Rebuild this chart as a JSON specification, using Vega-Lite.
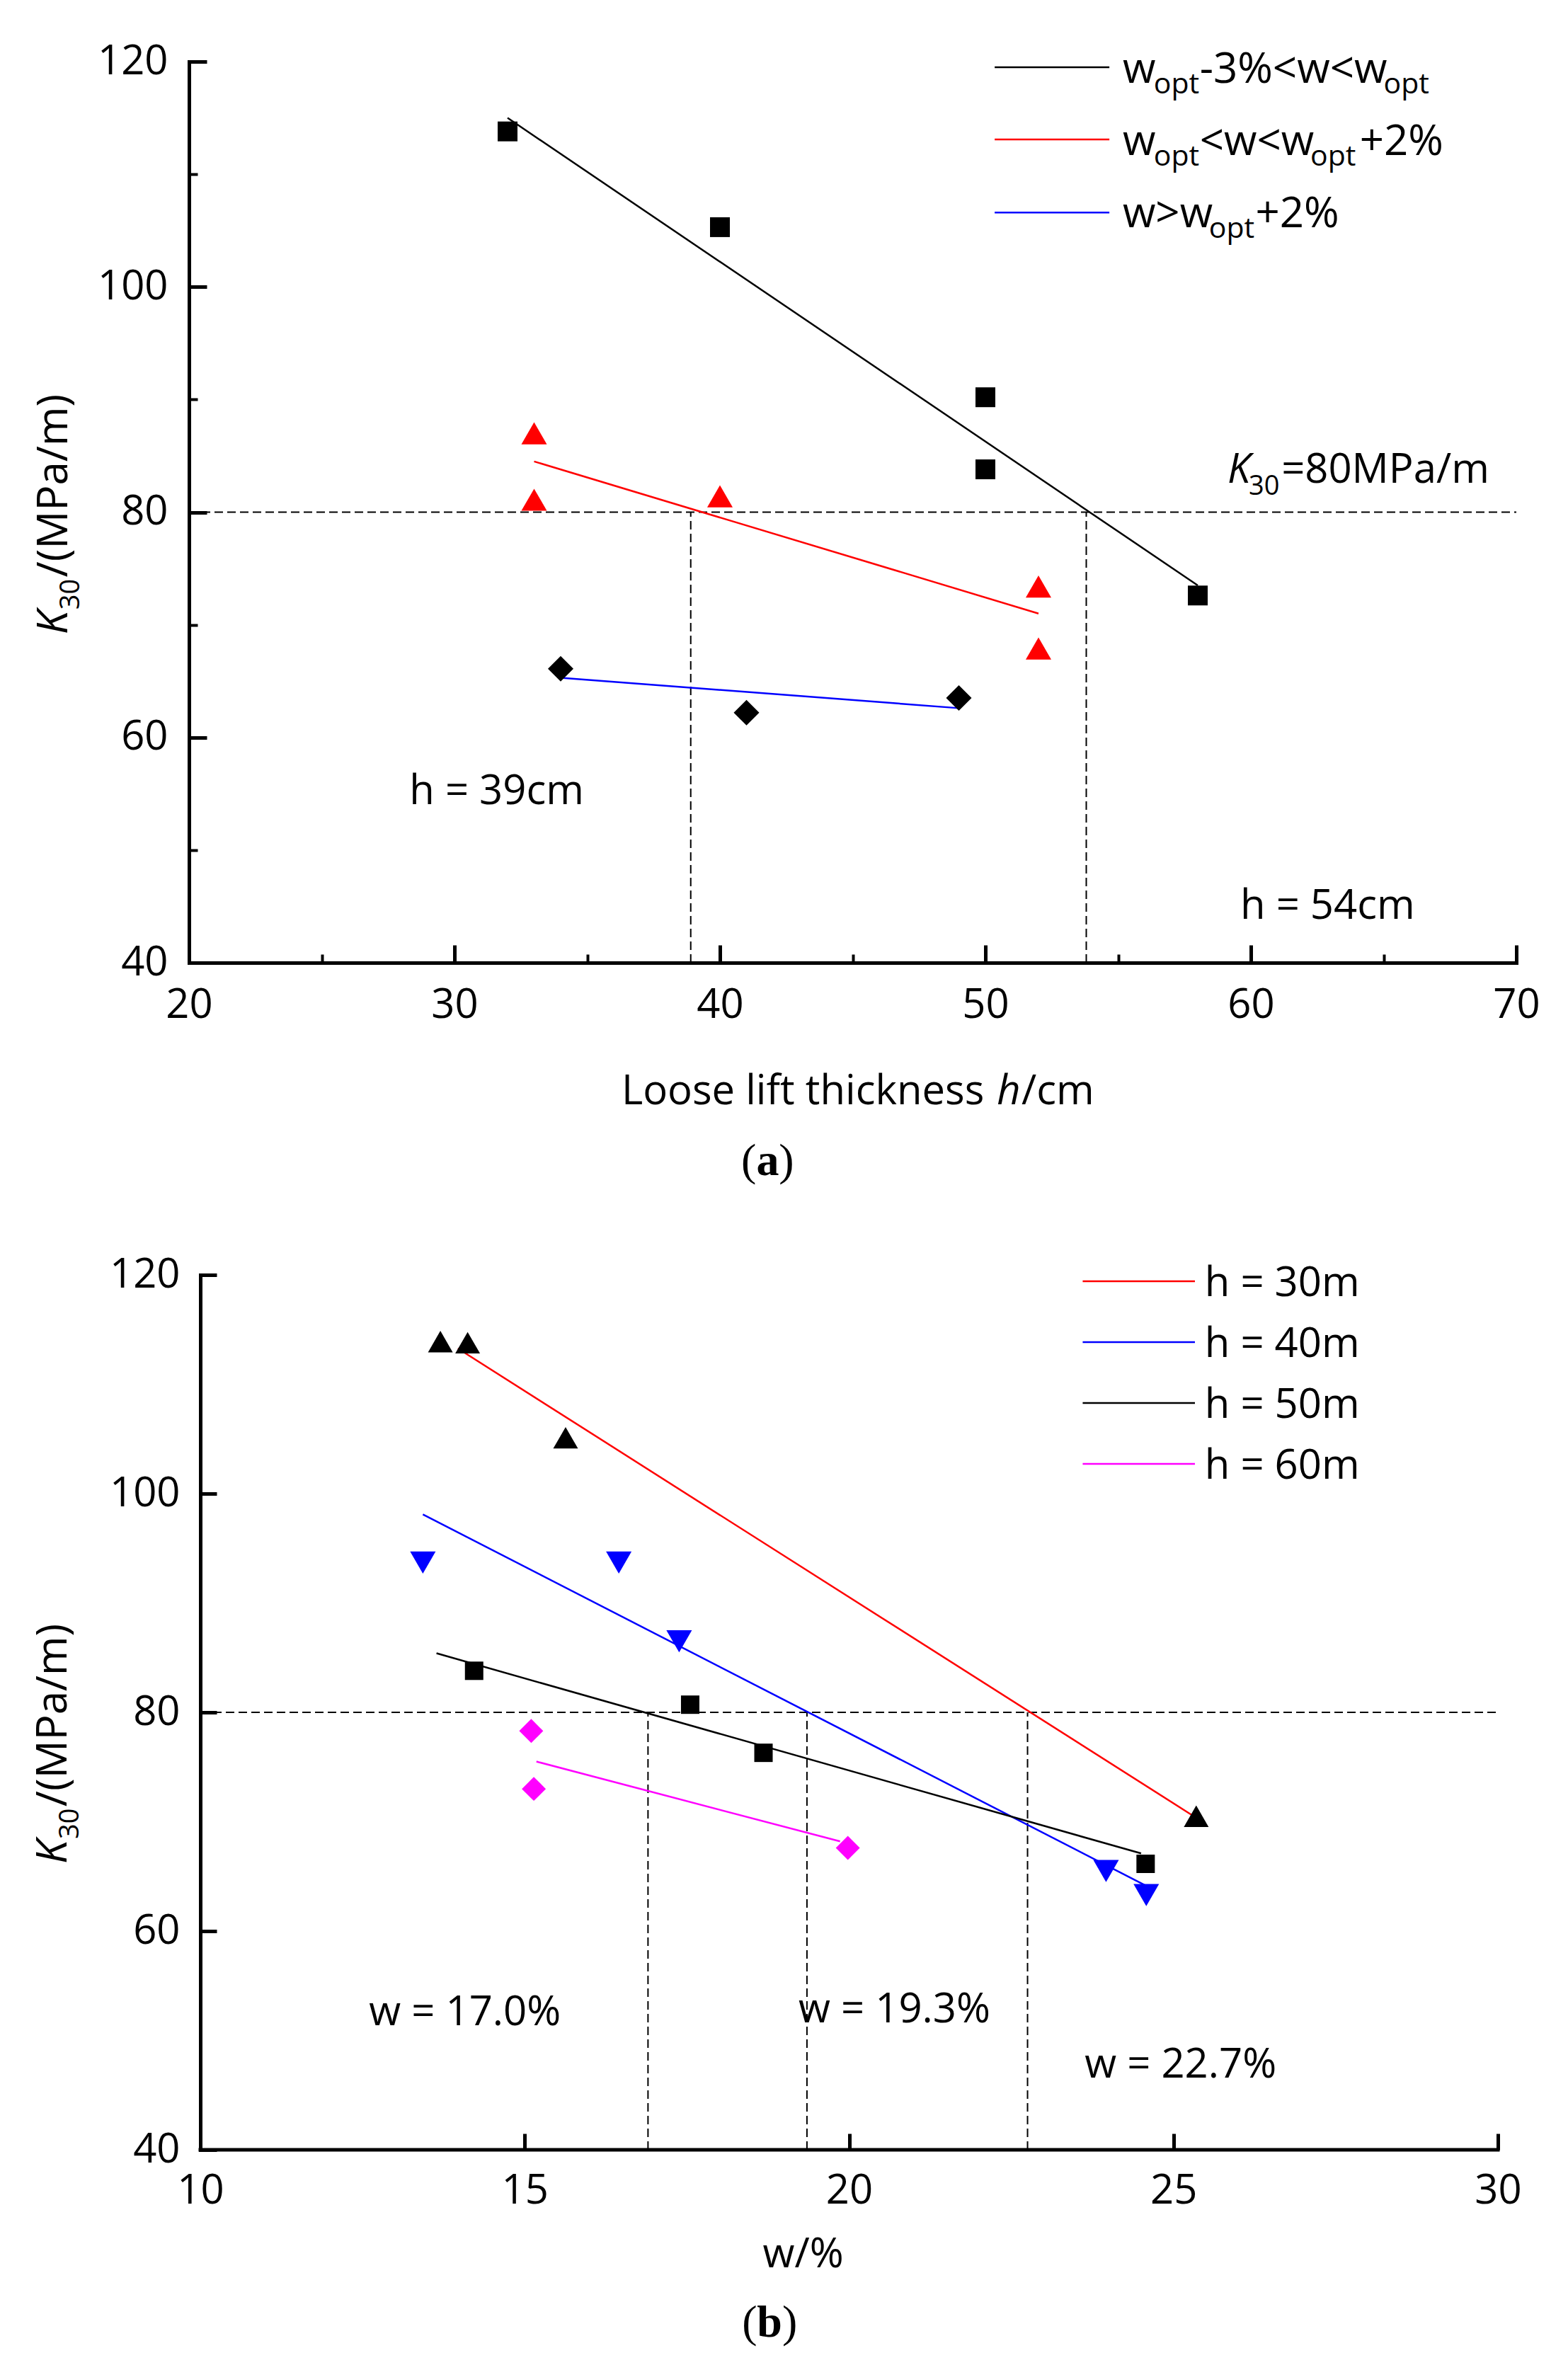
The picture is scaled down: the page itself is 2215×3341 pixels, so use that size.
{
  "$schema": "https://vega.github.io/schema/vega-lite/v6.json",
  "background": "white",
  "padding": {"left": 46, "top": 58, "right": 5, "bottom": 5},
  "spacing": 98,
  "resolve": {"scale": {"color": "independent"}},
  "config": {"view": {"stroke": null}, "font": "Open Sans", "text": {"color": "black"}},
  "vconcat": [
    {
      "width": 1875,
      "height": 1273,
      "resolve": {"axis": {"x": "independent", "y": "independent"}},
      "layer": [
        {
          "data": {"values": [
            {"x": 20, "y": 80, "x2": 70, "y2": 80},
            {"x": 38.9, "y": 40, "x2": 38.9, "y2": 80},
            {"x": 53.8, "y": 40, "x2": 53.8, "y2": 80}
          ]},
          "mark": {"type": "rule", "color": "black", "strokeWidth": 2, "strokeDash": [12, 6]},
          "encoding": {
            "x": {"field": "x", "type": "quantitative", "scale": {"domain": [20, 70], "nice": false, "zero": false},
              "axis": {"orient": "bottom", "values": [25, 35, 45, 55, 65], "labels": false, "domain": false, "title": null, "grid": false, "tickColor": "black", "tickWidth": 4, "tickSize": -12}},
            "y": {"field": "y", "type": "quantitative", "scale": {"domain": [40, 120], "nice": false, "zero": false},
              "axis": {"orient": "left", "values": [50, 70, 90, 110], "labels": false, "domain": false, "title": null, "grid": false, "tickColor": "black", "tickWidth": 4, "tickSize": -12}},
            "x2": {"field": "x2"},
            "y2": {"field": "y2"}
          }
        },
        {
          "data": {"values": [
            {"s": "A", "x": 32, "y": 115.0}, {"s": "A", "x": 58, "y": 73.5},
            {"s": "B", "x": 33, "y": 84.5}, {"s": "B", "x": 52, "y": 71.0},
            {"s": "C", "x": 34, "y": 65.3}, {"s": "C", "x": 49, "y": 62.6}
          ]},
          "mark": {"type": "line", "strokeWidth": 2.5},
          "encoding": {
            "x": {"field": "x", "type": "quantitative",
              "axis": {"orient": "bottom", "values": [20, 30, 40, 50, 60, 70], "title": null, "grid": false, "domainColor": "black", "domainWidth": 5, "domainCap": "square", "tickColor": "black", "tickWidth": 5, "tickSize": -25, "labelPadding": 56, "labelFontSize": 58, "labelFont": "Open Sans", "labelColor": "black", "labelFlush": false, "labelOverlap": false}},
            "y": {"field": "y", "type": "quantitative",
              "axis": {"orient": "left", "values": [40, 60, 80, 100, 120], "title": null, "grid": false, "domainColor": "black", "domainWidth": 5, "domainCap": "square", "tickColor": "black", "tickWidth": 5, "tickSize": -25, "labelPadding": 55, "labelFontSize": 58, "labelFont": "Open Sans", "labelColor": "black", "labelFlush": false, "labelOverlap": false}},
            "color": {"field": "s", "type": "nominal", "scale": {"domain": ["A", "B", "C"], "range": ["#000000", "#ff0000", "#0000ff"]}, "legend": null},
            "detail": {"field": "s"}
          }
        },
        {
          "data": {"values": [
            {"s": "A", "x": 50.35, "x2": 54.67, "y": 119.5},
            {"s": "B", "x": 50.35, "x2": 54.67, "y": 113.09},
            {"s": "C", "x": 50.35, "x2": 54.67, "y": 106.6}
          ]},
          "mark": {"type": "rule", "strokeWidth": 2.5},
          "encoding": {
            "x": {"field": "x", "type": "quantitative", "axis": null},
            "x2": {"field": "x2"},
            "y": {"field": "y", "type": "quantitative", "axis": null},
            "color": {"field": "s", "type": "nominal", "legend": null}
          }
        },
        {
          "data": {"values": [
            {"x": 32, "y": 113.8}, {"x": 40, "y": 105.3}, {"x": 50, "y": 90.2}, {"x": 50, "y": 83.8}, {"x": 58, "y": 72.6}
          ]},
          "mark": {"type": "point", "shape": "square", "filled": true, "color": "black", "opacity": 1, "size": 784},
          "encoding": {
            "x": {"field": "x", "type": "quantitative", "axis": null},
            "y": {"field": "y", "type": "quantitative", "axis": null}
          }
        },
        {
          "data": {"values": [
            {"x": 33, "y": 87.0}, {"x": 33, "y": 81.1}, {"x": 40, "y": 81.4}, {"x": 52, "y": 73.4}, {"x": 52, "y": 67.9}
          ]},
          "mark": {"type": "point", "shape": "triangle-up", "filled": true, "color": "#ff0000", "opacity": 1, "size": 1300},
          "encoding": {
            "x": {"field": "x", "type": "quantitative", "axis": null},
            "y": {"field": "y", "type": "quantitative", "axis": null}
          }
        },
        {
          "data": {"values": [
            {"x": 34, "y": 66.1}, {"x": 41, "y": 62.2}, {"x": 49, "y": 63.5}
          ]},
          "mark": {"type": "point", "shape": "diamond", "filled": true, "color": "black", "opacity": 1, "size": 1300},
          "encoding": {
            "x": {"field": "x", "type": "quantitative", "axis": null},
            "y": {"field": "y", "type": "quantitative", "axis": null}
          }
        },
        {
          "data": {"values": [
            {"x": 61.15, "y": 82.6, "t": "=80MPa/m"},
            {"x": 28.3, "y": 54.1, "t": "h = 39cm"},
            {"x": 59.6, "y": 43.9, "t": "h = 54cm"},
            {"x": 36.29, "y": 27.43, "t": "Loose lift thickness"},
            {"x": 51.36, "y": 27.43, "t": "/cm"}
          ]},
          "mark": {"type": "text", "align": "left", "baseline": "alphabetic", "fontSize": 58, "font": "Open Sans"},
          "encoding": {
            "x": {"field": "x", "type": "quantitative", "axis": null},
            "y": {"field": "y", "type": "quantitative", "axis": null},
            "text": {"field": "t"}
          }
        },
        {
          "data": {"values": [
            {"x": 59.12, "y": 82.6, "t": "K"},
            {"x": 50.43, "y": 27.43, "t": "h"}
          ]},
          "mark": {"type": "text", "align": "left", "baseline": "alphabetic", "fontSize": 58, "fontStyle": "italic", "font": "Open Sans"},
          "encoding": {
            "x": {"field": "x", "type": "quantitative", "axis": null},
            "y": {"field": "y", "type": "quantitative", "axis": null},
            "text": {"field": "t"}
          }
        },
        {
          "data": {"values": [
            {"x": 59.92, "y": 81.53, "t": "30"}
          ]},
          "mark": {"type": "text", "align": "left", "baseline": "alphabetic", "fontSize": 38, "font": "Open Sans"},
          "encoding": {
            "x": {"field": "x", "type": "quantitative", "axis": null},
            "y": {"field": "y", "type": "quantitative", "axis": null},
            "text": {"field": "t"}
          }
        },
        {
          "data": {"values": [
            {"x": 55.17, "y": 118.11, "t": "w"},
            {"x": 58.07, "y": 118.11, "t": "-3%<w<w"},
            {"x": 55.17, "y": 111.7, "t": "w"},
            {"x": 58.07, "y": 111.7, "t": "<w<w"},
            {"x": 64.1, "y": 111.7, "t": "+2%"},
            {"x": 55.17, "y": 105.29, "t": "w>w"},
            {"x": 60.17, "y": 105.29, "t": "+2%"}
          ]},
          "mark": {"type": "text", "align": "left", "baseline": "alphabetic", "fontSize": 60, "font": "Open Sans"},
          "encoding": {
            "x": {"field": "x", "type": "quantitative", "axis": null},
            "y": {"field": "y", "type": "quantitative", "axis": null},
            "text": {"field": "t"}
          }
        },
        {
          "data": {"values": [
            {"x": 56.34, "y": 117.17, "t": "opt"},
            {"x": 65.0, "y": 117.17, "t": "opt"},
            {"x": 56.34, "y": 110.76, "t": "opt"},
            {"x": 62.24, "y": 110.76, "t": "opt"},
            {"x": 58.42, "y": 104.35, "t": "opt"}
          ]},
          "mark": {"type": "text", "align": "left", "baseline": "alphabetic", "fontSize": 41, "font": "Open Sans"},
          "encoding": {
            "x": {"field": "x", "type": "quantitative", "axis": null},
            "y": {"field": "y", "type": "quantitative", "axis": null},
            "text": {"field": "t"}
          }
        },
        {
          "data": {"values": [
            {"x": 15.41, "y": 74.24, "t": "/(MPa/m)"}
          ]},
          "mark": {"type": "text", "align": "left", "baseline": "alphabetic", "angle": 270, "fontSize": 60, "font": "Open Sans"},
          "encoding": {
            "x": {"field": "x", "type": "quantitative", "axis": null},
            "y": {"field": "y", "type": "quantitative", "axis": null},
            "text": {"field": "t"}
          }
        },
        {
          "data": {"values": [
            {"x": 15.41, "y": 69.15, "t": "K"}
          ]},
          "mark": {"type": "text", "align": "left", "baseline": "alphabetic", "angle": 270, "fontSize": 60, "fontStyle": "italic", "font": "Open Sans"},
          "encoding": {
            "x": {"field": "x", "type": "quantitative", "axis": null},
            "y": {"field": "y", "type": "quantitative", "axis": null},
            "text": {"field": "t"}
          }
        },
        {
          "data": {"values": [
            {"x": 15.87, "y": 71.35, "t": "30"}
          ]},
          "mark": {"type": "text", "align": "left", "baseline": "alphabetic", "angle": 270, "fontSize": 38, "font": "Open Sans"},
          "encoding": {
            "x": {"field": "x", "type": "quantitative", "axis": null},
            "y": {"field": "y", "type": "quantitative", "axis": null},
            "text": {"field": "t"}
          }
        },
        {
          "data": {"values": [
            {"x": 40.8, "y": 21.14, "t": "("},
            {"x": 42.22, "y": 21.14, "t": ")"}
          ]},
          "mark": {"type": "text", "align": "left", "baseline": "alphabetic", "fontSize": 64, "font": "Liberation Serif"},
          "encoding": {
            "x": {"field": "x", "type": "quantitative", "axis": null},
            "y": {"field": "y", "type": "quantitative", "axis": null},
            "text": {"field": "t"}
          }
        },
        {
          "data": {"values": [
            {"x": 41.37, "y": 21.14, "t": "a"}
          ]},
          "mark": {"type": "text", "align": "left", "baseline": "alphabetic", "fontSize": 64, "fontWeight": "bold", "font": "Liberation Serif"},
          "encoding": {
            "x": {"field": "x", "type": "quantitative", "axis": null},
            "y": {"field": "y", "type": "quantitative", "axis": null},
            "text": {"field": "t"}
          }
        }
      ]
    },
    {
      "width": 1849,
      "height": 1236,
      "resolve": {"axis": {"x": "independent", "y": "independent"}},
      "layer": [
        {
          "data": {"values": [
            {"x": 10, "y": 80, "x2": 30, "y2": 80},
            {"x": 16.9, "y": 40, "x2": 16.9, "y2": 80},
            {"x": 19.35, "y": 40, "x2": 19.35, "y2": 80},
            {"x": 22.75, "y": 40, "x2": 22.75, "y2": 80}
          ]},
          "mark": {"type": "rule", "color": "black", "strokeWidth": 2, "strokeDash": [12, 6]},
          "encoding": {
            "x": {"field": "x", "type": "quantitative", "scale": {"domain": [9.8254, 30], "nice": false, "zero": false},
              "axis": {"orient": "bottom", "values": [10, 15, 20, 25, 30], "title": null, "grid": false, "domain": false, "tickColor": "black", "tickWidth": 5, "tickSize": -23, "labelPadding": 52, "labelFontSize": 58, "labelFont": "Open Sans", "labelColor": "black", "labelFlush": false, "labelOverlap": false}},
            "y": {"field": "y", "type": "quantitative", "scale": {"domain": [40, 120], "nice": false, "zero": false},
              "axis": {"orient": "left", "offset": -16, "values": [40, 60, 80, 100, 120], "title": null, "grid": false, "domainColor": "black", "domainWidth": 5, "domainCap": "square", "tickColor": "black", "tickWidth": 5, "tickSize": -23, "labelPadding": 52, "labelFontSize": 58, "labelFont": "Open Sans", "labelColor": "black", "labelFlush": false, "labelOverlap": false}},
            "x2": {"field": "x2"},
            "y2": {"field": "y2"}
          }
        },
        {
          "data": {"values": [
            {"x": 10, "x2": 30, "y": 40}
          ]},
          "mark": {"type": "rule", "color": "black", "strokeWidth": 5, "strokeCap": "square"},
          "encoding": {
            "x": {"field": "x", "type": "quantitative", "axis": null},
            "x2": {"field": "x2"},
            "y": {"field": "y", "type": "quantitative", "axis": null}
          }
        },
        {
          "data": {"values": [
            {"h": "30", "x": 13.97, "y": 113.27}, {"h": "30", "x": 25.35, "y": 70.36},
            {"h": "40", "x": 13.43, "y": 98.1}, {"h": "40", "x": 24.58, "y": 64.14},
            {"h": "50", "x": 13.64, "y": 85.4}, {"h": "50", "x": 24.5, "y": 67.1},
            {"h": "60", "x": 15.18, "y": 75.5}, {"h": "60", "x": 19.86, "y": 68.2}
          ]},
          "mark": {"type": "line", "strokeWidth": 2.5},
          "encoding": {
            "x": {"field": "x", "type": "quantitative", "axis": null},
            "y": {"field": "y", "type": "quantitative", "axis": null},
            "color": {"field": "h", "type": "nominal", "scale": {"domain": ["30", "40", "50", "60"], "range": ["#ff0000", "#0000ff", "#000000", "#ff00ff"]}, "legend": null},
            "detail": {"field": "h"}
          }
        },
        {
          "data": {"values": [
            {"h": "30", "x": 23.6, "x2": 25.33, "y": 119.42},
            {"h": "40", "x": 23.6, "x2": 25.33, "y": 113.85},
            {"h": "50", "x": 23.6, "x2": 25.33, "y": 108.28},
            {"h": "60", "x": 23.6, "x2": 25.33, "y": 102.72}
          ]},
          "mark": {"type": "rule", "strokeWidth": 2.5},
          "encoding": {
            "x": {"field": "x", "type": "quantitative", "axis": null},
            "x2": {"field": "x2"},
            "y": {"field": "y", "type": "quantitative", "axis": null},
            "color": {"field": "h", "type": "nominal", "legend": null}
          }
        },
        {
          "data": {"values": [
            {"x": 13.7, "y": 113.9}, {"x": 14.12, "y": 113.8}, {"x": 15.63, "y": 105.1}, {"x": 25.35, "y": 70.5}
          ]},
          "mark": {"type": "point", "shape": "triangle-up", "filled": true, "color": "black", "opacity": 1, "size": 1225},
          "encoding": {
            "x": {"field": "x", "type": "quantitative", "axis": null},
            "y": {"field": "y", "type": "quantitative", "axis": null}
          }
        },
        {
          "data": {"values": [
            {"x": 13.43, "y": 93.7}, {"x": 16.45, "y": 93.7}, {"x": 17.38, "y": 86.5}, {"x": 23.96, "y": 65.5}, {"x": 24.58, "y": 63.3}
          ]},
          "mark": {"type": "point", "shape": "triangle-down", "filled": true, "color": "#0000ff", "opacity": 1, "size": 1300},
          "encoding": {
            "x": {"field": "x", "type": "quantitative", "axis": null},
            "y": {"field": "y", "type": "quantitative", "axis": null}
          }
        },
        {
          "data": {"values": [
            {"x": 14.22, "y": 83.8}, {"x": 17.55, "y": 80.7}, {"x": 18.68, "y": 76.3}, {"x": 24.57, "y": 66.15}
          ]},
          "mark": {"type": "point", "shape": "square", "filled": true, "color": "black", "opacity": 1, "size": 676},
          "encoding": {
            "x": {"field": "x", "type": "quantitative", "axis": null},
            "y": {"field": "y", "type": "quantitative", "axis": null}
          }
        },
        {
          "data": {"values": [
            {"x": 15.1, "y": 78.3}, {"x": 15.14, "y": 73.0}, {"x": 19.98, "y": 67.6}
          ]},
          "mark": {"type": "point", "shape": "diamond", "filled": true, "color": "#ff00ff", "opacity": 1, "size": 1150},
          "encoding": {
            "x": {"field": "x", "type": "quantitative", "axis": null},
            "y": {"field": "y", "type": "quantitative", "axis": null}
          }
        },
        {
          "data": {"values": [
            {"x": 12.6, "y": 51.4, "t": "w = 17.0%"},
            {"x": 19.22, "y": 51.65, "t": "w = 19.3%"},
            {"x": 23.63, "y": 46.6, "t": "w = 22.7%"},
            {"x": 25.48, "y": 118.06, "t": "h = 30m"},
            {"x": 25.48, "y": 112.49, "t": "h = 40m"},
            {"x": 25.48, "y": 106.93, "t": "h = 50m"},
            {"x": 25.48, "y": 101.36, "t": "h = 60m"},
            {"x": 18.67, "y": 29.26, "t": "w/%"}
          ]},
          "mark": {"type": "text", "align": "left", "baseline": "alphabetic", "fontSize": 58, "font": "Open Sans"},
          "encoding": {
            "x": {"field": "x", "type": "quantitative", "axis": null},
            "y": {"field": "y", "type": "quantitative", "axis": null},
            "text": {"field": "t"}
          }
        },
        {
          "data": {"values": [
            {"x": 7.94, "y": 71.39, "t": "/(MPa/m)"}
          ]},
          "mark": {"type": "text", "align": "left", "baseline": "alphabetic", "angle": 270, "fontSize": 60, "font": "Open Sans"},
          "encoding": {
            "x": {"field": "x", "type": "quantitative", "axis": null},
            "y": {"field": "y", "type": "quantitative", "axis": null},
            "text": {"field": "t"}
          }
        },
        {
          "data": {"values": [
            {"x": 7.94, "y": 66.15, "t": "K"}
          ]},
          "mark": {"type": "text", "align": "left", "baseline": "alphabetic", "angle": 270, "fontSize": 60, "fontStyle": "italic", "font": "Open Sans"},
          "encoding": {
            "x": {"field": "x", "type": "quantitative", "axis": null},
            "y": {"field": "y", "type": "quantitative", "axis": null},
            "text": {"field": "t"}
          }
        },
        {
          "data": {"values": [
            {"x": 8.12, "y": 68.41, "t": "30"}
          ]},
          "mark": {"type": "text", "align": "left", "baseline": "alphabetic", "angle": 270, "fontSize": 38, "font": "Open Sans"},
          "encoding": {
            "x": {"field": "x", "type": "quantitative", "axis": null},
            "y": {"field": "y", "type": "quantitative", "axis": null},
            "text": {"field": "t"}
          }
        },
        {
          "data": {"values": [
            {"x": 18.35, "y": 22.91, "t": "("},
            {"x": 18.97, "y": 22.91, "t": ")"}
          ]},
          "mark": {"type": "text", "align": "left", "baseline": "alphabetic", "fontSize": 64, "font": "Liberation Serif"},
          "encoding": {
            "x": {"field": "x", "type": "quantitative", "axis": null},
            "y": {"field": "y", "type": "quantitative", "axis": null},
            "text": {"field": "t"}
          }
        },
        {
          "data": {"values": [
            {"x": 18.58, "y": 22.91, "t": "b"}
          ]},
          "mark": {"type": "text", "align": "left", "baseline": "alphabetic", "fontSize": 64, "fontWeight": "bold", "font": "Liberation Serif"},
          "encoding": {
            "x": {"field": "x", "type": "quantitative", "axis": null},
            "y": {"field": "y", "type": "quantitative", "axis": null},
            "text": {"field": "t"}
          }
        }
      ]
    }
  ]
}
